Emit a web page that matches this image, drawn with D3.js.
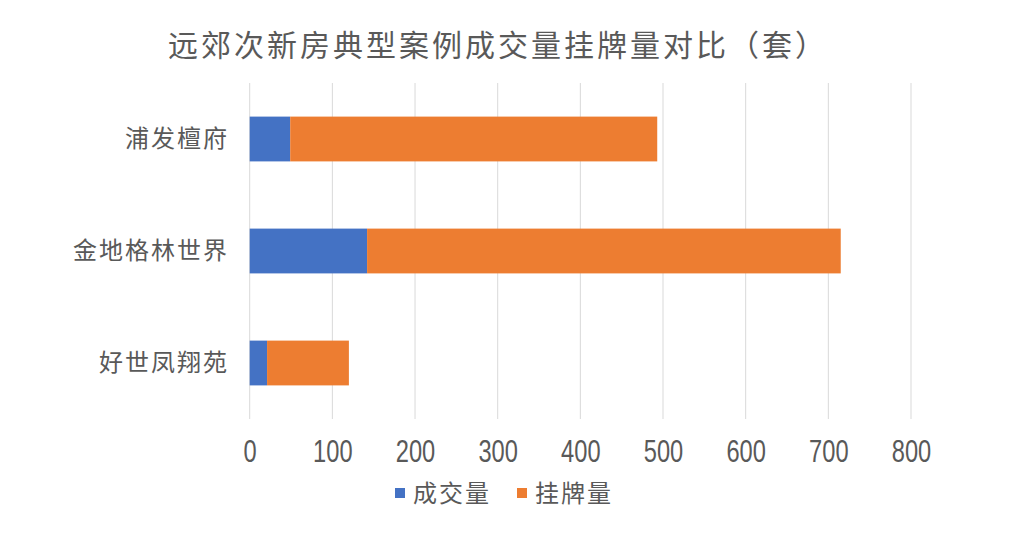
<!DOCTYPE html>
<html><head><meta charset="utf-8">
<script src="https://cdn.jsdelivr.net/npm/d3@7"></script>
<style>body{margin:0;background:#fff;} svg{display:block;}</style>
</head><body>
<svg id="chart" width="1027" height="549"></svg>
<script>
const categories = ["浦发檀府", "金地格林世界", "好世凤翔苑"];
const seriesNames = ["成交量", "挂牌量"];
const dealVolume = [49, 142, 21];
const listingVolume = [444, 573, 99];
const tickValues = [0, 100, 200, 300, 400, 500, 600, 700, 800];
const title = "远郊次新房典型案例成交量挂牌量对比（套）";
const colors = ["#4472C4", "#ED7D31"];

const svg = d3.select("#chart");
const cjk = "'Noto Sans CJK SC', sans-serif";
const textColor = "#595959";

const x = d3.scaleLinear().domain([0, 800]).range([249.7, 911]);
const y = d3.scaleBand().domain(categories).range([83, 419]).paddingInner(0.6).paddingOuter(0.3);

// gridlines
svg.append("g").selectAll("line").data(tickValues).join("line")
  .attr("x1", d => x(d)).attr("x2", d => x(d))
  .attr("y1", 83).attr("y2", 419)
  .attr("stroke", "#d9d9d9").attr("stroke-width", 1);

const table = categories.map((c, i) => ({cat: c, vals: [dealVolume[i], listingVolume[i]]}));
const stack = d3.stack().keys([0, 1]).value((d, k) => d.vals[k]);
const stacked = stack(table);

svg.append("g").selectAll("g").data(stacked).join("g")
  .attr("fill", (d, i) => colors[i])
  .selectAll("rect").data(d => d).join("rect")
  .attr("x", d => x(d[0]))
  .attr("width", d => x(d[1]) - x(d[0]))
  .attr("y", d => y(d.data.cat))
  .attr("height", y.bandwidth());

// x axis labels
const xAxis = d3.axisBottom(x).tickValues(tickValues).tickSize(0).tickPadding(0);
const gx = svg.append("g").attr("transform", "translate(0,439)").call(xAxis);
gx.select(".domain").remove();
gx.selectAll("text").attr("font-family", "'Liberation Sans', Arial, sans-serif")
  .attr("font-size", 32).attr("fill", textColor).attr("dy", "0.72em")
  .attr("transform", "scale(0.74,1)");

// y axis labels
const yAxis = d3.axisLeft(y).tickSize(0).tickPadding(0);
const gy = svg.append("g").attr("transform", "translate(229,0)").call(yAxis);
gy.select(".domain").remove();
gy.selectAll("text").attr("font-family", cjk).attr("font-size", 24)
  .attr("letter-spacing", 2).attr("fill", textColor);

// title
svg.append("text").attr("x", 498).attr("y", 56).attr("text-anchor", "middle")
  .attr("font-family", cjk).attr("font-size", 30).attr("letter-spacing", 3)
  .attr("fill", textColor).text(title);

// legend
const legend = svg.append("g");
const legendX = [395, 517];
seriesNames.forEach((n, i) => {
  legend.append("rect").attr("x", legendX[i]).attr("y", 488).attr("width", 10).attr("height", 10).attr("fill", colors[i]);
  legend.append("text").attr("x", legendX[i] + 18).attr("y", 502)
    .attr("font-family", cjk).attr("font-size", 24).attr("letter-spacing", 2)
    .attr("fill", textColor).text(n);
});
</script>
</body></html>
